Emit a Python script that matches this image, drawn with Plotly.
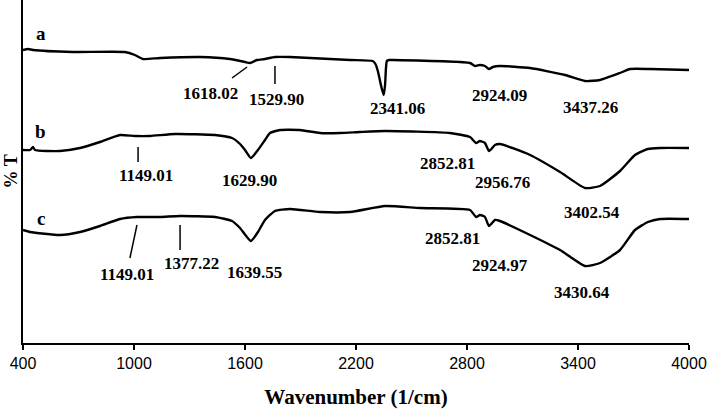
import plotly.graph_objects as go

# ---- data (wavenumber in 1/cm, transmittance in arbitrary offset units) ----
wn_a = [400, 427, 454, 670, 951, 1005, 1049, 1141, 1357, 1519, 1600, 1627, 1665, 1708, 1762, 1843,
        2168, 2290, 2305, 2318, 2330, 2340, 2350, 2357, 2362, 2367, 2380, 2400, 2816, 2843, 2870,
        2897, 2919, 2940, 2978, 3141, 3330, 3438, 3519, 3627, 3681, 3789, 4000]
t_a = [293, 294, 293, 291, 291, 288, 284, 285, 286, 284, 281, 280, 283, 284, 286, 286,
       283, 282, 279, 272, 262, 254, 248, 258, 275, 282, 283, 283, 280, 277, 278,
       277, 274, 276, 277, 275, 268, 262, 263, 270, 274, 274, 273]

wn_b = [400, 438, 454, 465, 600, 708, 816, 924, 1005, 1086, 1222, 1438, 1530, 1573, 1600, 1632,
        1670, 1708, 1735, 1789, 1897, 2005, 2114, 2222, 2357, 2708, 2816, 2849, 2870, 2897, 2919,
        2951, 2978, 3141, 3303, 3438, 3519, 3627, 3708, 3778, 3843, 4000]
t_b = [193, 193, 196, 193, 192, 195, 201, 208, 207, 207, 209, 208, 205, 199, 193, 185,
       193, 203, 210, 213, 213, 210, 210, 211, 212, 210, 206, 200, 202, 200, 192,
       198, 199, 188, 171, 155, 157, 172, 188, 194, 195, 195]

wn_c = [400, 438, 600, 708, 816, 924, 1016, 1141, 1249, 1438, 1530, 1573, 1632, 1670, 1708, 1762,
        1843, 2005, 2168, 2357, 2546, 2816, 2849, 2870, 2897, 2919, 2951, 2978, 3141, 3303, 3438,
        3519, 3627, 3708, 3778, 3843, 4000]
t_c = [113, 111, 108, 111, 117, 124, 126, 126, 127, 126, 122, 115, 102, 111, 123, 132,
       134, 131, 131, 137, 135, 133, 126, 128, 126, 117, 123, 122, 108, 93, 77,
       80, 93, 113, 121, 124, 124]

x_ticks = [400, 1000, 1600, 2200, 2800, 3400, 4000]

# peak labels: text, x, y
peak_text = ["1618.02", "1529.90", "2341.06", "2924.09", "3437.26",
             "1149.01", "1629.90", "2852.81", "2956.76", "3402.54",
             "1149.01", "1377.22", "1639.55", "2852.81", "2924.97", "3430.64"]
peak_x = [1416, 1768, 2422, 2978, 3465,
          1065, 1622, 2692, 2994, 3476,
          962, 1313, 1654, 2719, 2978, 3422]
peak_y = [250, 244, 235, 248, 236,
          168, 163, 180, 161, 131,
          69, 80, 71, 105, 78, 51]

series_names = ["a", "b", "c"]
series_label_x = [497, 497, 497]
series_label_y = [310, 212, 125]

# leader lines: (x0, y0, x1, y1)
leaders = [(1530, 265, 1611, 276), (1762, 259, 1762, 277),
           (1022, 181, 1022, 196),
           (978, 85, 1016, 118), (1249, 93, 1249, 118)]

fig = go.Figure()
for wx, ty, nm in [(wn_a, t_a, "a"), (wn_b, t_b, "b"), (wn_c, t_c, "c")]:
    fig.add_trace(go.Scatter(x=wx, y=ty, mode="lines", name=nm,
                             line=dict(color="black", width=2.4, shape="spline", smoothing=0.5),
                             showlegend=False, hoverinfo="skip"))

serif = "Liberation Serif, Times New Roman, serif"
for t, x, y in zip(peak_text, peak_x, peak_y):
    fig.add_annotation(x=x, y=y, text="<b>%s</b>" % t, showarrow=False,
                       font=dict(family=serif, size=17, color="black"))
for t, x, y in zip(series_names, series_label_x, series_label_y):
    fig.add_annotation(x=x, y=y, text="<b>%s</b>" % t, showarrow=False,
                       font=dict(family=serif, size=19, color="black"))
for x0, y0, x1, y1 in leaders:
    fig.add_shape(type="line", x0=x0, y0=y0, x1=x1, y1=y1,
                  line=dict(color="black", width=1.5))

fig.add_annotation(xref="paper", yref="paper", x=-0.0195, y=0.5, text="<b>% T</b>",
                   textangle=-90, showarrow=False, xanchor="center", yanchor="middle",
                   font=dict(family=serif, size=18, color="black"))

fig.update_xaxes(range=[400, 4000], tickvals=x_ticks, ticktext=[str(v) for v in x_ticks],
                 showline=True, linecolor="black", linewidth=2, ticks="outside",
                 ticklen=5, tickwidth=2, tickcolor="black", showgrid=False, zeroline=False,
                 tickfont=dict(family="Liberation Sans, Arial, sans-serif", size=16, color="black"),
                 title=dict(text="<b>Wavenumber (1/cm)</b>", standoff=18,
                            font=dict(family=serif, size=21, color="black")))
fig.update_yaxes(range=[0, 343], showline=True, linecolor="black", linewidth=2,
                 showticklabels=False, ticks="", showgrid=False, zeroline=False)

fig.update_layout(width=709, height=410, margin=dict(l=23, r=20, t=0, b=67),
                  plot_bgcolor="white", paper_bgcolor="white")

fig.write_html("out.html", config={"displayModeBar": False},
               post_script="document.body.style.margin='0';document.body.style.overflow='hidden';")
